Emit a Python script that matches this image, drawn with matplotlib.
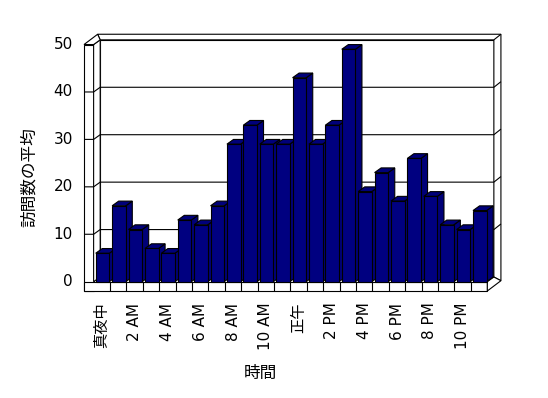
import matplotlib
matplotlib.use("Agg")
import matplotlib.pyplot as plt
from matplotlib.patches import Polygon, Rectangle

# latin in DejaVu (wider, closer to the original), CJK falls back to Noto
plt.rcParams["font.family"] = ["DejaVu Sans", "Noto Sans CJK JP"]

# hourly averages, midnight .. 11 PM
hours = ["真夜中", "1 AM", "2 AM", "3 AM", "4 AM", "5 AM", "6 AM", "7 AM",
         "8 AM", "9 AM", "10 AM", "11 AM", "正午", "1 PM", "2 PM", "3 PM",
         "4 PM", "5 PM", "6 PM", "7 PM", "8 PM", "9 PM", "10 PM", "11 PM"]
visits = [6, 16, 11, 7, 6, 13, 12, 16, 29, 33, 29, 29,
          43, 29, 33, 49, 19, 23, 17, 26, 18, 12, 11, 15]
y_ticks = [0, 10, 20, 30, 40, 50]
y_label = "訪問数の平均"
x_label = "時間"

# pseudo-3d look (in data units)
DX, DY = 0.40, 0.99      # depth of bars / back wall
TX, TY = 0.43, 1.18      # wall thickness
WALL_L = -1.085          # left wall outer edge
FLOOR = -1.96            # bottom of floor slab
BAR_OFF, BAR_W = 0.128, 0.83
NAVY = "#000080"
LW = 0.8

fig = plt.figure(figsize=(5.48, 3.98), dpi=100)
ax = fig.add_axes([0, 0, 1, 1])
ax.set_xlim(-6.207, 27.20)
ax.set_ylim(-24.52, 59.39)
ax.axis("off")

n = len(visits)
right = n - 0.5
top = y_ticks[-1]


def line(xs, ys, z=1):
    ax.plot(xs, ys, color="black", lw=LW, zorder=z, solid_capstyle="butt")


# back wall
ax.add_patch(Rectangle((-0.5 + DX, DY), n, top, fc="white", ec="black", lw=LW, zorder=1))
# back wall thickness (top and right)
ax.add_patch(Polygon([(WALL_L + DX + TX, top + DY + TY), (right + DX + TX, top + DY + TY),
                      (right + DX + TX, FLOOR + DY + TY), (right + DX, DY),
                      (right + DX, top + DY), (-0.5 + DX, top + DY)],
                     closed=True, fc="white", ec="black", lw=LW, zorder=1))
line([right + DX, right + DX + TX], [top + DY, top + DY + TY])
# left wall: front end face + inner side face + top
ax.add_patch(Rectangle((WALL_L, FLOOR), -0.5 - WALL_L, top - FLOOR, fc="white", ec="black", lw=LW, zorder=1))
ax.add_patch(Polygon([(-0.5, 0), (-0.5, top), (-0.5 + DX, top + DY), (-0.5 + DX, DY)],
                     closed=True, fc="white", ec="black", lw=LW, zorder=1))
ax.add_patch(Polygon([(WALL_L, top), (-0.5, top), (-0.5 + DX, top + DY),
                      (WALL_L + DX + TX, top + DY + TY)],
                     closed=True, fc="white", ec="black", lw=LW, zorder=1))
# floor slab front face with category cells, right end
ax.add_patch(Rectangle((WALL_L, FLOOR), right - WALL_L, -FLOOR, fc="white", ec="black", lw=LW, zorder=1))
ax.add_patch(Polygon([(right, 0), (right, FLOOR), (right + DX + TX, FLOOR + DY + TY),
                      (right + DX, DY)], closed=True, fc="white", ec="black", lw=LW, zorder=1))
for i in range(1, n):
    line([i - 0.5, i - 0.5], [FLOOR, 0])

# gridlines wrapping the walls
for v in y_ticks[1:-1]:
    line([WALL_L, -0.5, -0.5 + DX, right + DX, right + DX + TX],
         [v, v, v + DY, v + DY, v + DY + TY])

# bars: sides and tops first, fronts on top
for i, v in enumerate(visits):
    l = i - 0.5 + BAR_OFF
    r = l + BAR_W
    ax.add_patch(Polygon([(r, 0), (r, v), (r + DX, v + DY), (r + DX, DY)],
                         closed=True, fc="#000078", ec="black", lw=LW, zorder=3))
    ax.add_patch(Polygon([(l, v), (r, v), (r + DX, v + DY), (l + DX, v + DY)],
                         closed=True, fc="#00007a", ec="black", lw=LW, zorder=3))
ax.bar([i - 0.5 + BAR_OFF for i in range(n)], visits, width=BAR_W, align="edge",
       color=NAVY, edgecolor="black", lw=LW, zorder=4)

# tick labels
for v in y_ticks:
    ax.text(-1.77, v, str(v), ha="right", va="center", fontsize=11)
for i, h in enumerate(hours):
    if i % 2 == 0:
        ax.text(i, -4.4, h, ha="center", va="top", rotation=90, fontsize=11)

ax.text(-4.47, 22.1, y_label, ha="center", va="center", rotation=90, fontsize=12)
ax.text(9.65, -19.25, x_label, ha="center", va="center", fontsize=12)

fig.savefig("out.png", dpi=100)
